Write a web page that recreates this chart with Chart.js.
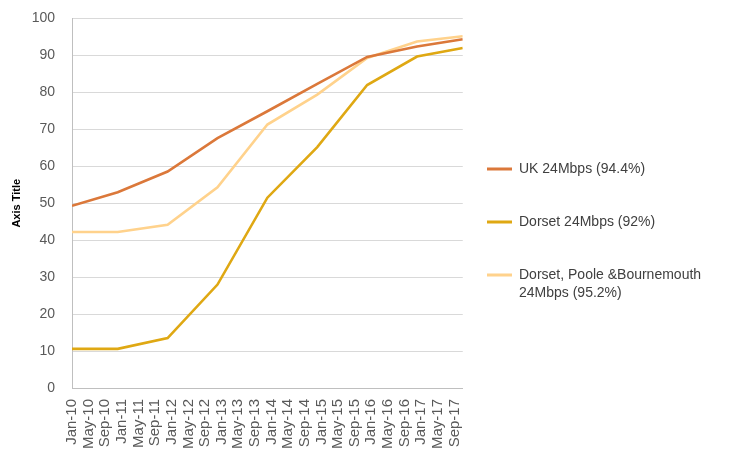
<!DOCTYPE html>
<html><head><meta charset="utf-8">
<script src="https://cdn.jsdelivr.net/npm/chart.js@4.4.1/dist/chart.umd.min.js"></script>
<style>html,body{margin:0;padding:0;background:#fff}#wrap{width:731px;height:450px;position:relative}</style>
</head><body><div id="wrap"><canvas id="c"></canvas></div>
<script>
const tickLabels = ['Jan-10','May-10','Sep-10','Jan-11','May-11','Sep-11','Jan-12','May-12','Sep-12','Jan-13','May-13','Sep-13','Jan-14','May-14','Sep-14','Jan-15','May-15','Sep-15','Jan-16','May-16','Sep-16','Jan-17','May-17','Sep-17'];
const months = [0, 11, 23, 35, 47, 59, 71, 83, 94];
const ukValues = [49.3, 53.0, 58.6, 67.6, 74.9, 82.3, 89.6, 92.4, 94.4];
const dorsetValues = [10.6, 10.6, 13.5, 28.0, 51.5, 65.2, 82.0, 89.7, 92.0];
const dpbValues = [42.2, 42.2, 44.2, 54.3, 71.3, 79.4, 89.3, 93.8, 95.2];
const seriesNames = ['UK 24Mbps (94.4%)', 'Dorset 24Mbps (92%)', ['Dorset, Poole &Bournemouth', '24Mbps (95.2%)']];
const seriesColors = ['#DB783A', '#DFA813', '#FFD28C'];

const toPoints = vals => months.map((m, i) => ({x: m, y: vals[i]}));
const seriesValues = [ukValues, dorsetValues, dpbValues];

const legendPlace = {
  id: 'legendPlace',
  afterLayout(chart) {
    const l = chart.legend;
    const pad = l.options.labels.padding;
    const h = l.bottom - l.top;
    l.left = 487 - pad; l.right = chart.width;
    l.top = 169 - pad - 7; l.bottom = l.top + h;
  }
};

new Chart(document.getElementById('c'), {
  type: 'line',
  data: {
    datasets: seriesValues.map((v, i) => ({
      label: [].concat(seriesNames[i]).join(' '),
      data: toPoints(v),
      borderColor: seriesColors[i],
      backgroundColor: seriesColors[i],
      borderWidth: 2.6,
      pointRadius: 0,
      tension: 0,
      fill: false
    }))
  },
  options: {
    responsive: true,
    maintainAspectRatio: false,
    animation: false,
    devicePixelRatio: 1,
    layout: {padding: {top: 18.5, left: 0, bottom: 0, right: 114}},
    plugins: {
      tooltip: {enabled: false},
      legend: {
        position: 'right',
        align: 'start',
        labels: {
          boxWidth: 25,
          boxHeight: 3,
          padding: 39,
          color: '#404040',
          font: {family: 'Liberation Sans', size: 14, lineHeight: '18px'},
          generateLabels: chart => chart.data.datasets.map((ds, i) => ({
            text: seriesNames[i],
            fillStyle: ds.borderColor,
            strokeStyle: ds.borderColor,
            lineWidth: 0,
            hidden: false,
            datasetIndex: i,
            fontColor: '#404040'
          }))
        }
      }
    },
    scales: {
      x: {
        type: 'linear',
        min: 0,
        max: 94,
        afterBuildTicks: s => { s.ticks = tickLabels.map((_, i) => ({value: i * 4})); },
        afterFit: s => { s.height = 62; s.paddingLeft = 0; s.paddingRight = 0; s.paddingTop = 0; s.paddingBottom = 0; },
        ticks: {
          autoSkip: false,
          maxRotation: 90,
          minRotation: 90,
          padding: 11,
          color: '#595959',
          font: {family: 'Liberation Sans', size: 15},
          callback: v => tickLabels[Math.round(v / 4)]
        },
        grid: {display: false, drawTicks: false},
        border: {display: true, color: '#bfbfbf', width: 1}
      },
      y: {
        min: 0,
        max: 100,
        afterFit: s => { s.width = 72; s.paddingTop = 0; s.paddingBottom = 0; s.paddingLeft = 0; s.paddingRight = 0; },
        ticks: {stepSize: 10, padding: 17, color: '#595959', font: {family: 'Liberation Sans', size: 14}},
        grid: {color: '#d9d9d9', drawTicks: false},
        border: {display: true, color: '#bfbfbf', width: 1},
        title: {display: true, text: 'Axis Title', color: '#000', font: {family: 'Liberation Sans', size: 11, weight: 'bold'}, padding: {top: 10.5, bottom: 0}}
      }
    }
  },
  plugins: [legendPlace]
});
</script>
</body></html>
